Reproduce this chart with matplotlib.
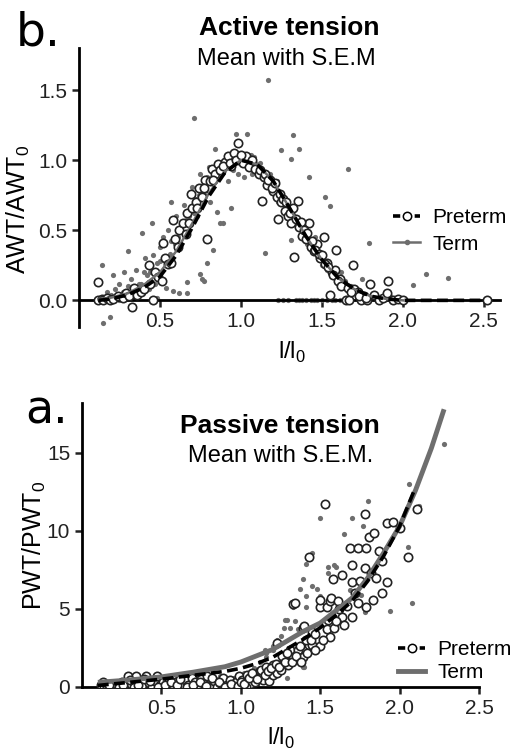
import matplotlib
matplotlib.use("Agg")
import matplotlib.pyplot as plt
from matplotlib.lines import Line2D

# ---------------- data: Active tension (panel b) ----------------
act_pre_x = [0.12,0.12,0.14,0.15,0.17,0.19,0.21,0.24,0.27,0.29,0.31,0.33,0.34,0.36,0.38,0.40,0.43,0.44,0.46,0.47,
             0.49,0.51,0.52,0.53,0.55,0.57,0.58,0.59,0.61,0.62,0.64,0.66,0.67,0.69,0.70,0.72,0.74,0.76,0.78,0.79,
             0.80,0.82,0.84,0.86,0.88,0.90,0.92,0.94,0.96,0.98,0.99,1.01,1.03,1.05,1.07,1.09,1.11,1.13,1.14,1.16,
             1.18,1.20,1.22,1.23,1.25,1.27,1.29,1.31,1.33,1.35,1.36,1.38,1.40,1.42,1.43,1.45,1.47,1.49,1.51,1.53,
             1.55,1.56,1.58,1.59,1.61,1.63,1.65,1.67,1.69,1.70,1.72,1.74,1.76,1.78,1.80,1.82,1.85,1.88,1.90,1.91,
             1.94,1.97,2.00,2.52]
act_pre_y = [0.13,0.00,0.01,0.00,0.02,0.00,0.01,0.03,0.02,0.05,0.03,-0.05,0.09,0.04,0.06,0.08,0.25,0.12,0.00,0.20,
             0.17,0.14,0.41,0.30,0.26,0.27,0.57,0.44,0.38,0.50,0.55,0.47,0.62,0.76,0.66,0.70,0.80,0.74,0.86,0.44,
             0.80,0.94,0.90,0.97,0.92,0.99,1.03,0.96,1.05,1.12,1.00,0.98,1.03,0.95,1.00,0.94,0.90,0.71,0.88,0.82,
             0.86,0.78,0.74,0.58,0.70,0.64,0.60,0.55,0.31,0.71,0.52,0.46,0.44,0.55,0.38,0.35,0.40,0.30,0.45,0.27,
             0.04,0.20,0.22,0.36,0.15,0.12,0.00,0.00,0.25,0.08,0.06,0.00,0.03,0.00,0.12,0.04,0.00,0.02,0.05,0.14,
             0.00,0.01,0.00,0.00]
act_pre_band_x = [0.68,0.73,0.77,0.81,0.83,0.87,0.89,0.93,0.97,1.00,1.12,1.15,1.17,1.19,1.21,1.24,1.26,1.28,1.30,1.32,
                  1.34,1.37,1.39,1.41,1.44,1.46,1.48,1.50,1.52,1.54,1.57,1.60,1.62,1.66,1.68,1.73,1.77]
act_pre_band_y = [0.55,0.66,0.80,0.85,0.86,0.93,0.96,0.98,1.00,1.04,0.93,0.90,0.86,0.80,0.84,0.76,0.72,0.70,0.62,0.66,
                  0.58,0.56,0.50,0.48,0.42,0.36,0.33,0.32,0.26,0.24,0.18,0.14,0.10,0.09,0.06,0.03,0.02]

act_term_x = [0.13,0.14,0.15,0.16,0.17,0.19,0.20,0.21,0.22,0.24,0.25,0.27,0.28,0.30,0.30,0.32,0.34,0.35,0.37,0.39,
              0.40,0.41,0.43,0.45,0.46,0.48,0.48,0.50,0.52,0.54,0.55,0.57,0.57,0.58,0.60,0.62,0.63,0.65,0.67,0.67,
              0.68,0.70,0.71,0.72,0.73,0.75,0.75,0.76,0.77,0.78,0.79,0.80,0.81,0.83,0.84,0.85,0.86,0.87,0.89,0.90,
              0.92,0.94,0.95,0.97,0.98,1.00,1.02,1.04,1.05,1.07,1.08,1.10,1.12,1.14,1.15,1.17,1.18,1.20,1.22,1.23,
              1.24,1.25,1.26,1.28,1.29,1.31,1.31,1.32,1.33,1.34,1.36,1.36,1.37,1.38,1.40,1.40,1.42,1.43,1.44,1.45,
              1.46,1.47,1.48,1.50,1.50,1.52,1.53,1.55,1.56,1.56,1.58,1.60,1.61,1.62,1.63,1.66,1.68,1.72,1.75,1.79,
              1.82,1.86,1.92,2.06,2.14,2.28]
act_term_y = [0.00,0.25,-0.16,0.02,0.06,-0.12,0.04,0.18,0.08,0.02,0.12,0.06,0.20,0.35,0.10,0.15,0.02,0.22,0.12,0.48,
              0.20,0.30,0.08,0.55,0.32,0.27,0.02,0.38,0.45,0.09,0.50,0.70,0.42,0.07,0.60,0.05,0.52,0.68,0.13,0.05,
              0.60,0.81,1.30,0.72,0.60,0.19,0.90,0.15,0.14,0.82,0.27,0.95,0.70,0.36,1.08,0.63,0.88,0.55,0.55,1.00,
              0.85,0.66,0.93,1.19,0.90,1.00,0.88,1.19,0.97,0.90,1.02,0.95,0.98,0.88,0.34,1.57,0.90,0.80,0.85,0.00,
              0.75,1.07,0.00,0.65,0.00,1.01,0.43,1.18,0.60,0.00,1.08,0.00,0.50,0.00,0.55,0.00,0.88,0.00,0.35,0.00,
              0.45,0.00,0.30,0.25,0.00,0.74,0.00,0.67,0.18,0.00,0.00,0.12,0.00,0.20,0.00,0.94,0.10,0.06,0.15,0.41,
              0.05,0.02,0.03,0.11,0.19,0.16]
act_term_band_x = [0.56,0.59,0.61,0.64,0.66,0.69,0.71,0.74,0.77,0.79,0.82,0.88,0.91,0.93,0.96,0.99,1.03,1.06,1.09,1.13,
                   1.16,1.19,1.21,1.23,1.27,1.30,1.35,1.39,1.41,1.45,1.49,1.53,1.57,1.64,1.70,0.20,0.25,0.35,0.38,0.42,
                   0.44,0.47,0.50,0.53]
act_term_band_y = [0.33,0.40,0.45,0.48,0.57,0.66,0.62,0.75,0.76,0.88,0.85,0.95,0.98,1.03,1.02,1.05,1.00,1.04,0.98,0.92,
                   0.86,0.83,0.76,0.70,0.68,0.62,0.58,0.45,0.40,0.38,0.30,0.22,0.20,0.14,0.08,0.02,0.00,0.05,0.12,0.18,
                   0.20,0.12,0.28,0.30]

act_pre_fit_x = [0.12,0.2,0.3,0.4,0.5,0.6,0.7,0.8,0.9,1.0,1.1,1.2,1.3,1.4,1.5,1.6,1.7,1.8,1.9,2.0,2.2,2.5]
act_pre_fit_y = [0.00,0.01,0.04,0.09,0.17,0.32,0.52,0.74,0.91,1.00,0.97,0.85,0.66,0.46,0.29,0.16,0.08,0.03,0.01,0.00,0.00,0.00]
act_term_fit_x = [0.12,0.2,0.3,0.4,0.5,0.6,0.7,0.8,0.9,1.0,1.1,1.2,1.3,1.4,1.5,1.6,1.7,1.8,1.9,2.0]
act_term_fit_y = [0.01,0.02,0.05,0.11,0.20,0.35,0.55,0.76,0.92,1.00,0.97,0.85,0.66,0.46,0.29,0.16,0.08,0.03,0.01,0.00]

# ---------------- data: Passive tension (panel a) ----------------
pas_pre_x = [0.12,0.14,0.16,0.18,0.20,0.22,0.25,0.28,0.29,0.31,0.33,0.34,0.36,0.38,0.40,0.42,0.44,0.46,0.47,0.49,
             0.51,0.53,0.55,0.57,0.59,0.61,0.63,0.65,0.67,0.69,0.71,0.73,0.75,0.77,0.79,0.81,0.83,0.85,0.87,0.89,
             0.91,0.93,0.95,0.97,0.99,1.01,1.04,1.06,1.09,1.12,1.13,1.13,1.14,1.16,1.18,
             1.20,1.20,1.23,1.23,1.25,1.27,1.30,1.31,1.33,1.33,1.34,1.36,1.39,1.39,1.40,1.43,1.43,1.45,1.45,1.50,
             1.50,1.50,1.53,1.54,1.54,1.56,1.56,1.57,1.58,1.59,1.61,1.64,1.64,1.65,1.69,1.70,1.70,1.70,1.74,1.74,
             1.78,1.78,1.79,1.79,1.81,1.83,1.84,1.87,1.89,1.89,1.92,1.92,1.96,2.00,2.05,2.11]
pas_pre_y = [0.1,0.0,0.05,0.2,0.0,0.1,0.3,0.05,0.7,0.2,0.0,0.7,0.35,0.1,0.7,0.25,0.0,0.4,0.7,0.1,
             0.3,0.0,0.5,0.15,0.35,0.0,0.2,0.45,0.1,0.6,0.3,0.0,0.5,0.2,0.7,0.1,0.4,0.0,0.25,0.6,
             0.1,0.45,0.0,0.3,0.7,0.45,0.8,0.2,0.3,1.0,0.6,1.1,0.45,1.3,0.4,
             0.8,1.4,0.9,2.8,1.1,1.7,1.4,2.4,1.9,5.3,5.4,2.4,1.9,3.8,3.9,2.7,8.3,3.5,2.7,2.6,
             5.1,5.6,11.7,3.7,5.1,3.2,5.5,5.7,6.9,3.8,5.5,7.2,4.5,4.0,8.9,7.8,6.7,4.5,8.9,5.4,
             11.1,7.6,8.9,5.1,9.6,5.6,9.9,8.7,6.0,8.1,6.7,10.5,10.6,10.2,8.3,11.4]
pas_pre_more_x = [0.13,0.17,0.23,0.26,0.30,0.35,0.39,0.43,0.48,0.52,0.56,0.60,0.62,0.66,0.70,0.74,0.78,0.82,0.86,0.90,
                  0.94,0.98,1.00,1.03,1.02,1.05,1.07,1.10,1.15,1.17,1.19,1.22,1.24,1.26,1.28,1.29,1.32,1.35,1.37,1.38,
                  1.41,1.42,1.44,1.47,1.47,1.52,1.55,1.60,1.62,1.67,1.72,1.75,1.82,1.85]
pas_pre_more_y = [0.3,0.15,0.0,0.15,0.45,0.1,0.5,0.4,0.0,0.15,0.3,0.1,0.5,0.0,0.15,0.35,0.05,0.55,0.35,0.0,
                  0.2,0.05,0.3,0.0,0.2,0.6,0.9,0.5,0.8,1.0,1.2,1.5,1.3,2.0,1.6,2.2,1.6,2.0,2.6,1.6,
                  3.0,2.2,3.0,2.4,3.4,3.0,4.3,4.2,5.0,5.2,6.0,6.8,7.3,7.0]

pas_term_x = [0.12,0.15,0.18,0.21,0.24,0.27,0.30,0.33,0.36,0.39,0.42,0.45,0.48,0.51,0.54,0.57,0.60,0.63,0.66,0.69,
              0.72,0.75,0.78,0.81,0.84,0.87,0.90,0.93,0.96,0.99,1.02,1.05,1.08,1.10,1.12,1.15,1.16,1.16,1.16,1.18,
              1.20,1.20,1.23,1.25,1.27,1.28,1.29,1.29,1.31,1.31,1.33,1.34,1.36,1.37,1.39,1.39,1.40,1.41,1.41,1.41,
              1.45,1.45,1.48,1.50,1.50,1.55,1.55,1.59,1.60,1.65,1.69,1.70,1.76,1.77,1.78,1.80,1.94,2.05,2.06,2.08,
              2.12,2.28]
pas_term_y = [0.0,0.2,0.05,0.3,0.1,0.0,0.4,0.15,0.5,0.05,0.35,0.6,0.2,0.0,0.45,0.25,0.55,0.1,0.4,0.0,
              0.65,0.3,0.05,0.5,0.2,0.7,0.35,0.0,0.6,0.2,0.9,0.4,1.2,0.1,1.6,2.4,0.3,2.2,1.9,0.25,
              2.6,2.4,3.0,3.3,3.8,4.3,0.6,4.3,3.8,1.4,5.1,4.2,3.7,6.3,6.9,1.3,1.3,5.8,5.1,7.9,
              8.6,6.5,6.3,10.8,5.8,7.7,7.3,7.8,7.7,9.8,6.2,10.8,5.9,10.3,4.8,11.9,4.9,9.0,13.0,5.4,
              11.6,15.6]

pas_pre_fit_x = [0.1,0.3,0.5,0.7,0.9,1.0,1.1,1.2,1.3,1.4,1.5,1.6,1.7,1.8,1.9,2.0,2.1]
pas_pre_fit_y = [0.1,0.3,0.5,0.75,1.0,1.2,1.5,1.9,2.5,3.1,3.8,4.6,5.5,6.8,8.4,10.3,12.8]
pas_term_fit_x = [0.1,0.3,0.5,0.7,0.9,1.0,1.1,1.2,1.3,1.4,1.5,1.6,1.7,1.8,1.9,2.0,2.1,2.2,2.28]
pas_term_fit_y = [0.3,0.45,0.65,0.95,1.3,1.6,2.0,2.4,3.0,3.6,4.1,4.9,5.7,7.0,8.6,10.3,12.6,15.3,17.8]

# ---------------- styling ----------------
W, H = 515, 749
plt.rcParams['font.family'] = ['Liberation Sans', 'DejaVu Sans']
fig = plt.figure(figsize=(W / 100, H / 100), dpi=100)

GRAY = '#6e6e6e'
EDGE = '#222222'

def fx(px):
    return px / W

def fy(py):
    return 1 - py / H

def style_axes(ax):
    for s in ['top', 'right']:
        ax.spines[s].set_visible(False)
    ax.spines['left'].set_linewidth(2)
    ax.spines['bottom'].set_linewidth(2)
    ax.spines['bottom'].set_position(('data', 0))
    ax.tick_params(axis='both', direction='out', length=5, width=1.8, labelsize=15, colors='#222222')
    ax.patch.set_alpha(0)

# -------- top panel (Active tension) --------
ax1 = fig.add_axes([fx(79), fy(327), fx(500) - fx(79), fy(48) - fy(327)])
ax1.scatter(act_term_x + act_term_band_x, act_term_y + act_term_band_y, s=14, color=GRAY, zorder=2, linewidths=0)
ax1.scatter(act_pre_x + act_pre_band_x, act_pre_y + act_pre_band_y, s=36, facecolor='white',
            edgecolor=EDGE, linewidths=1.2, zorder=3)
ax1.plot(act_term_fit_x, act_term_fit_y, color=GRAY, lw=1.8, zorder=4)
ax1.plot(act_pre_fit_x, act_pre_fit_y, color='black', lw=2.6, ls=(0, (3, 1.5)), zorder=5)
ax1.set_xlim(0, 2.6)
ax1.set_ylim(-0.19, 1.8)
ax1.set_xticks([0.5, 1.0, 1.5, 2.0, 2.5])
ax1.set_xticklabels(['0.5', '1.0', '1.5', '2.0', '2.5'])
ax1.set_yticks([0.0, 0.5, 1.0, 1.5])
ax1.set_yticklabels(['0.0', '0.5', '1.0', '1.5'])
style_axes(ax1)
ax1.set_ylabel(r'AWT/AWT$_\mathregular{0}$', fontsize=18)
ax1.yaxis.set_label_coords(-0.112, 0.42)
ax1.set_xlabel(r'l/l$_\mathregular{0}$', fontsize=17)
ax1.xaxis.set_label_coords(0.505, -0.045)

h_pre = Line2D([], [], color='black', lw=2.6, ls=(0, (2, 1)), marker='o', ms=6,
               mfc='white', mec='black', mew=1.1)
h_term = Line2D([], [], color=GRAY, lw=1.8, marker='o', ms=3, mfc=GRAY, mec=GRAY)
fig.legend([h_pre, h_term], ['Preterm', 'Term'], loc='center left',
           bbox_to_anchor=(fx(393), fy(231)), frameon=False, fontsize=15,
           handlelength=1.3, handletextpad=0.6, labelspacing=0.35, borderpad=0, borderaxespad=0)

# -------- bottom panel (Passive tension) --------
ax2 = fig.add_axes([fx(82), fy(687), fx(479) - fx(82), fy(403) - fy(687)])
ax2.scatter(pas_term_x, pas_term_y, s=14, color=GRAY, zorder=2, linewidths=0)
ax2.scatter(pas_pre_x + pas_pre_more_x, pas_pre_y + pas_pre_more_y, s=36, facecolor='white',
            edgecolor=EDGE, linewidths=1.2, zorder=3)
ax2.plot(pas_term_fit_x, pas_term_fit_y, color=GRAY, lw=3.5, zorder=4, solid_capstyle='butt')
ax2.plot(pas_pre_fit_x, pas_pre_fit_y, color='black', lw=2.6, ls=(0, (3, 1.5)), zorder=5)
ax2.set_xlim(0, 2.5)
ax2.set_ylim(0, 18.2)
ax2.set_xticks([0.5, 1.0, 1.5, 2.0, 2.5])
ax2.set_xticklabels(['0.5', '1.0', '1.5', '2.0', '2.5'])
ax2.set_yticks([0, 5, 10, 15])
style_axes(ax2)
ax2.set_ylabel(r'PWT/PWT$_\mathregular{0}$', fontsize=18)
ax2.yaxis.set_label_coords(-0.085, 0.5)
ax2.set_xlabel(r'l/l$_\mathregular{0}$', fontsize=17)
ax2.xaxis.set_label_coords(0.5, -0.135)

h_pre2 = Line2D([], [], color='black', lw=2.6, ls=(0, (2, 1)), marker='o', ms=6,
                mfc='white', mec='black', mew=1.1)
h_term2 = Line2D([], [], color=GRAY, lw=3.5)
fig.legend([h_pre2, h_term2], ['Preterm', 'Term'], loc='center left',
           bbox_to_anchor=(fx(398), fy(661)), frameon=False, fontsize=15,
           handlelength=1.3, handletextpad=0.6, labelspacing=0.2, borderpad=0, borderaxespad=0)

# -------- titles and panel letters --------
fig.text(fx(16), fy(45), 'b.', fontsize=34, family='DejaVu Sans', va='baseline', ha='left')
fig.text(fx(289), fy(35), 'Active tension', fontsize=19, fontweight='bold', va='baseline', ha='center')
fig.text(fx(286), fy(65), 'Mean with S.E.M', fontsize=17, va='baseline', ha='center')

fig.text(fx(25), fy(423), 'a.', fontsize=33, family='DejaVu Sans', va='baseline', ha='left')
fig.text(fx(280), fy(433), 'Passive tension', fontsize=19, fontweight='bold', va='baseline', ha='center')
fig.text(fx(281), fy(462), 'Mean with S.E.M.', fontsize=17, va='baseline', ha='center')

fig.savefig('out.png', dpi=100)
